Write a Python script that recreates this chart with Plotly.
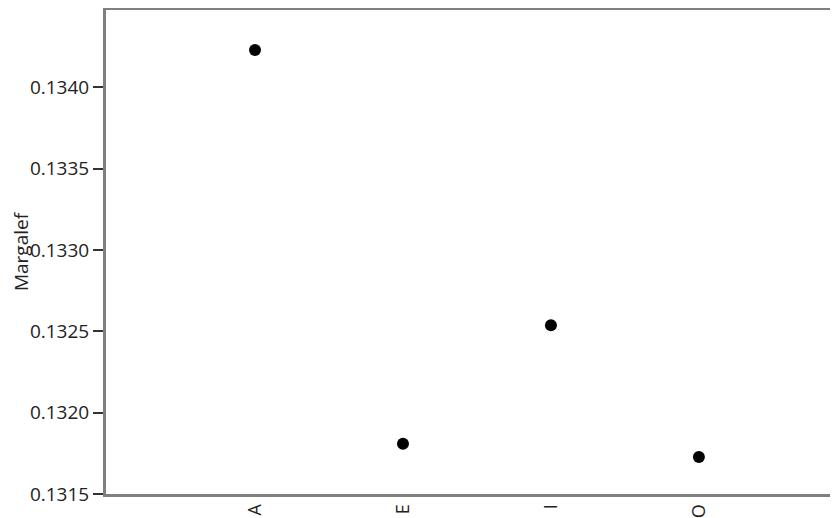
import plotly.graph_objects as go

categories = ["A", "E", "I", "O"]
margalef = [0.134228, 0.131809, 0.132537, 0.131728]

fig = go.Figure(
    go.Scatter(
        x=categories,
        y=margalef,
        mode="markers",
        marker=dict(color="black", size=12),
    )
)

fig.update_layout(
    width=830,
    height=510,
    margin=dict(l=98, r=0, t=2, b=24),
    paper_bgcolor="white",
    plot_bgcolor="white",
    showlegend=False,
    font=dict(family="Open Sans, DejaVu Sans, sans-serif", size=19, color="#222"),
)

fig.update_xaxes(
    type="category",
    range=[-1.007, 3.94],
    showline=True,
    linecolor="#808080",
    linewidth=3,
    mirror=True,
    showgrid=False,
    zeroline=False,
    ticks="",
    tickangle=-90,
    tickfont=dict(size=18, color="#222"),
    automargin=False,
)

fig.update_yaxes(
    range=[0.1315, 0.134474],
    tick0=0.1315,
    dtick=0.0005,
    tickformat=".4f",
    showline=True,
    linecolor="#808080",
    linewidth=3,
    showgrid=False,
    zeroline=False,
    ticks="outside",
    ticklen=10,
    tickwidth=2,
    tickcolor="#333",
    tickfont=dict(size=19, color="#222"),
    title=dict(text="Margalef", font=dict(size=19, color="#222"), standoff=0),
    automargin=False,
)

fig.write_html("out.html")
